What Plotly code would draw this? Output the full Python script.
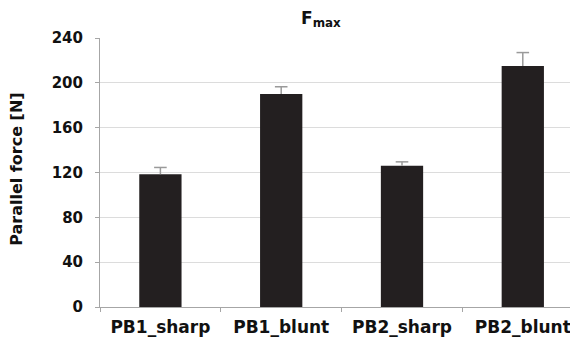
import plotly.graph_objects as go

categories = ["PB1_sharp", "PB1_blunt", "PB2_sharp", "PB2_blunt"]
values = [118.5, 190, 126, 215]
errors = [6, 6.5, 3.5, 12]
y_ticks = [0, 40, 80, 120, 160, 200, 240]

FONT = "DejaVu Sans"
ERR_COLOR = "#9a9a9a"

fig = go.Figure()
fig.add_trace(go.Bar(
    x=categories, y=values,
    marker=dict(color="#231f20", line=dict(width=0)),
    width=0.35, hoverinfo="x+y",
))

# upward-only error bars: stem from bar top to value+error, cap on top
stem_x, stem_y = [], []
for c, v, e in zip(categories, values, errors):
    stem_x += [c, c, None]
    stem_y += [v, v + e, None]
fig.add_trace(go.Scatter(
    x=stem_x, y=stem_y, mode="lines",
    line=dict(color=ERR_COLOR, width=1.5), hoverinfo="skip",
))
fig.add_trace(go.Scatter(
    x=categories, y=[v + e for v, e in zip(values, errors)], mode="markers",
    marker=dict(symbol="line-ew", size=9, line=dict(color=ERR_COLOR, width=1.5)),
    hoverinfo="skip",
))

# page body has an 8px default margin, so the figure is 8px smaller than the window
fig.update_layout(
    width=570, height=341,
    margin=dict(l=92, r=0, t=30, b=42),
    plot_bgcolor="white", paper_bgcolor="white",
    showlegend=False,
    title=dict(text="<b>F<sub>max</sub></b>", x=0.549, xref="container", xanchor="center",
               y=0.971, yref="container", yanchor="middle",
               font=dict(family=FONT, size=17, color="#111")),
    xaxis=dict(
        type="category", range=[-0.5, 3.457], automargin=False,
        showline=True, linecolor="#a6a6a6", linewidth=1,
        ticks="outside", tickson="boundaries", ticklen=4, tickcolor="#a6a6a6",
        tickfont=dict(family=FONT, size=17, color="#111", weight="bold"),
        ticklabelstandoff=5,
        showgrid=False,
    ),
    yaxis=dict(
        range=[0, 240], tickvals=y_ticks, automargin=False,
        showline=True, linecolor="#a6a6a6", linewidth=1,
        ticks="outside", ticklen=4, tickcolor="#a6a6a6",
        tickfont=dict(family=FONT, size=15, color="#111", weight="bold"),
        ticklabelstandoff=9,
        showgrid=True, gridcolor="#dcdcdc", gridwidth=1,
        zeroline=False,
    ),
    annotations=[dict(
        text="<b>Parallel force [N]</b>", textangle=-90,
        xref="paper", yref="paper", x=-0.1736, y=0.51,
        xanchor="center", yanchor="middle", showarrow=False,
        font=dict(family=FONT, size=16, color="#111"),
    )],
)

fig.write_html("out.html")
